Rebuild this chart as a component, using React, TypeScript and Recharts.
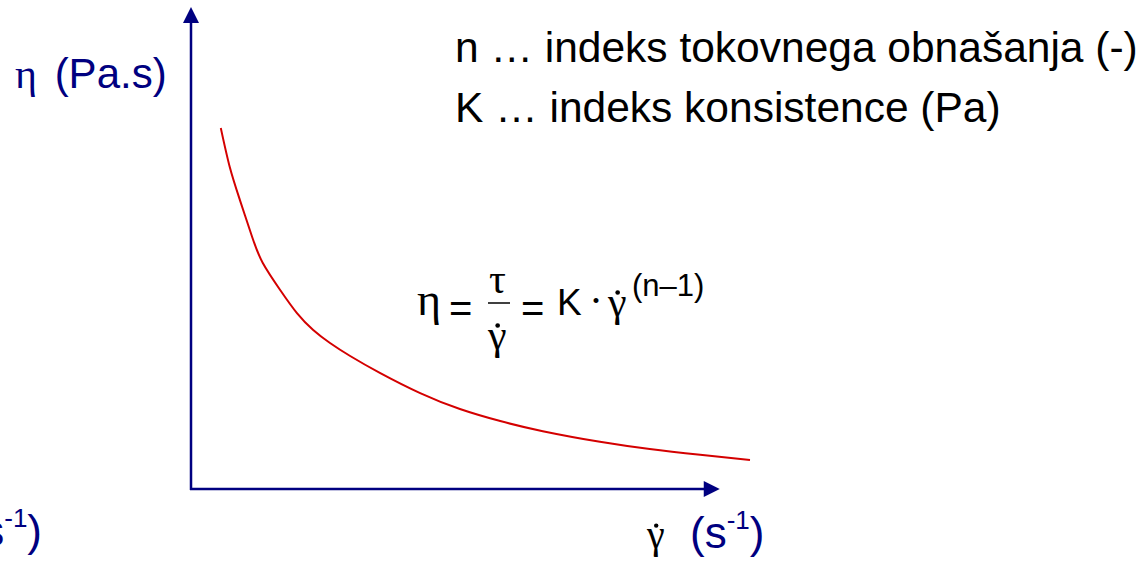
import React from 'react';
import { LineChart, Line, XAxis, YAxis, ReferenceLine, Customized } from 'recharts';

// Shear rate (s^-1) and apparent viscosity (Pa.s), arbitrary units
const shearRate = [5.5, 7.1, 8.9, 11.1, 13.0, 16.1, 19.1, 22.0, 25.0, 28.6, 33.9, 41.1, 48.2, 55.4, 63.0, 73.2, 82.1, 91.1, 100];
const viscosity = [75.1, 67.0, 60.2, 52.5, 47.1, 41.5, 36.7, 33.2, 30.5, 27.8, 24.3, 20.1, 16.8, 14.3, 12.2, 10.0, 8.5, 7.3, 6.2];

const xDomain: [number, number] = [0, 100];
const yDomain: [number, number] = [0, 100];
const xAxisEnd = 94.6;
const yAxisEnd = 100;

const legendLines = ['n … indeks tokovnega obnašanja (-)', 'K … indeks konsistence (Pa)'];

const data = shearRate.map((x, i) => ({ x, y: viscosity[i] }));

const NAVY = '#000080';
const RED = '#d40000';
const SANS = '"Liberation Sans", Arial, sans-serif';
const SERIF = '"Liberation Serif", "Times New Roman", serif';

const YArrow = (props: any) => {
  const { x1, y1, x2, y2 } = props;
  const tip = Math.min(y1, y2) - 1;
  const base = Math.max(y1, y2);
  const x = (x1 + x2) / 2 + 1;
  return (
    <g>
      <line x1={x} y1={base} x2={x} y2={tip + 14} stroke={NAVY} strokeWidth={2.5} />
      <polygon points={`${x},${tip} ${x - 8},${tip + 16} ${x + 8},${tip + 16}`} fill={NAVY} />
    </g>
  );
};

const XArrow = (props: any) => {
  const { x1, y1, x2, y2 } = props;
  const tip = Math.max(x1, x2);
  const start = Math.min(x1, x2);
  const y = (y1 + y2) / 2 - 1;
  return (
    <g>
      <line x1={start} y1={y} x2={tip - 14} y2={y} stroke={NAVY} strokeWidth={2.5} />
      <polygon points={`${tip},${y} ${tip - 16},${y - 8} ${tip - 16},${y + 8}`} fill={NAVY} />
    </g>
  );
};

// gamma with a dot above (shear rate symbol)
const GammaDot = ({ x, y, size, fill }: { x: number; y: number; size: number; fill: string }) => (
  <g>
    <text x={x} y={y} fontFamily={SERIF} fontSize={size} fill={fill}>γ</text>
    <circle cx={x + size * 0.23} cy={y - size * 0.56} r={size * 0.055} fill={fill} />
  </g>
);

const Annotations = () => (
  <g>
    {/* y-axis title */}
    <text x={15} y={88} fontSize={42} fill={NAVY} fontFamily={SANS}>
      <tspan fontFamily={SERIF}>η</tspan>
      <tspan dx={6}> (Pa.s)</tspan>
    </text>

    {/* parameter legend */}
    {legendLines.map((t, i) => (
      <text key={t} x={455} y={62 + i * 60} fontSize={42.5} fill="#000" fontFamily={SANS}>{t}</text>
    ))}

    {/* power-law formula */}
    <g fill="#000">
      <text x={417} y={315} fontFamily={SERIF} fontSize={46}>η</text>
      <text x={449} y={322} fontFamily={SANS} fontSize={40}>=</text>
      <text x={489} y={293} fontFamily={SERIF} fontSize={42}>τ</text>
      <line x1={488} y1={303} x2={510} y2={303} stroke="#000" strokeWidth={1.5} />
      <GammaDot x={488} y={349} size={42} fill="#000" />
      <text x={521} y={322} fontFamily={SANS} fontSize={40}>=</text>
      <text x={557} y={315} fontFamily={SANS} fontSize={37}>K</text>
      <text x={596} y={315} fontFamily={SERIF} fontSize={42} textAnchor="middle">·</text>
      <GammaDot x={608} y={316} size={42} fill="#000" />
      <text x={632} y={296} fontFamily={SANS} fontSize={31}>(n–1)</text>
    </g>

    {/* x-axis title */}
    <GammaDot x={647} y={548} size={40} fill="#000" />
    <text x={690} y={548} fontSize={44} fill={NAVY} fontFamily={SANS}>
      (s<tspan fontSize={26} dy={-19}>-1</tspan><tspan dy={19}>)</tspan>
    </text>

    {/* repeated unit at the lower left */}
    <text x={42} y={546} fontSize={44} fill={NAVY} fontFamily={SANS} textAnchor="end">
      (s<tspan fontSize={26} dy={-19}>-1</tspan><tspan dy={19}>)</tspan>
    </text>
  </g>
);

export default function App() {
  return (
    <div style={{ position: 'absolute', left: 0, top: 0, width: 1143, height: 569, background: '#fff' }}>
      <LineChart width={1143} height={569} data={data} margin={{ top: 8, right: 393, bottom: 79, left: 190 }}>
        <XAxis type="number" dataKey="x" domain={xDomain} hide />
        <YAxis type="number" dataKey="y" domain={yDomain} hide />
        <ReferenceLine
          segment={[{ x: 0, y: 0 }, { x: 0, y: yAxisEnd }]}
          ifOverflow="visible"
          shape={YArrow}
        />
        <ReferenceLine
          segment={[{ x: 0, y: 0 }, { x: xAxisEnd, y: 0 }]}
          ifOverflow="visible"
          shape={XArrow}
        />
        <Line
          type="natural"
          dataKey="y"
          stroke={RED}
          strokeWidth={2}
          dot={false}
          isAnimationActive={false}
        />
        <Customized component={Annotations} />
      </LineChart>
    </div>
  );
}
